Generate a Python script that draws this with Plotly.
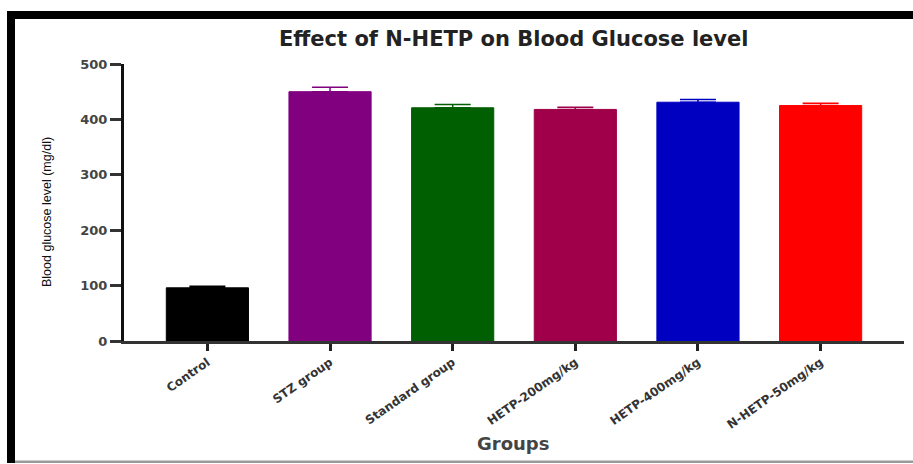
import plotly.graph_objects as go

# Mean blood glucose (mg/dl) per group with upper SEM bars
groups = ["Control", "STZ group", "Standard group", "HETP-200mg/kg", "HETP-400mg/kg", "N-HETP-50mg/kg"]
glucose = [96, 450, 421, 418, 431, 425]
sem = [3, 8, 6, 4, 5, 4]
bar_colors = ["#000000", "#800080", "#005f00", "#a0004a", "#0000c0", "#ff0000"]
y_ticks = [0, 100, 200, 300, 400, 500]

W, H = 913, 464
L, R, T, B = 124, 9, 64, 123
pw, ph = W - L - R, H - T - B


def px(x):
    return (x - L) / pw


def py(y):
    return (H - B - y) / ph


fig = go.Figure()
for i, g in enumerate(groups):
    fig.add_trace(go.Bar(
        x=[i], y=[glucose[i]],
        width=0.67,
        marker=dict(color=bar_colors[i], line=dict(color=bar_colors[i], width=1)),
        error_y=dict(type="data", symmetric=False, array=[sem[i]], arrayminus=[0],
                     color=bar_colors[i], thickness=1.5, width=18),
        showlegend=False,
        name=g,
    ))

wide_bold = "DejaVu Sans, Verdana, sans-serif"

fig.update_layout(
    width=W, height=H,
    margin=dict(l=L, r=R, t=T, b=B),
    paper_bgcolor="white", plot_bgcolor="white",
    bargap=0.33,
    font=dict(family=wide_bold, color="#333333"),
    xaxis=dict(
        range=[-0.68, 5.68],
        tickmode="array", tickvals=list(range(len(groups))), ticktext=groups,
        tickangle=-35,
        tickfont=dict(size=12, family=wide_bold, color="#333333", weight="bold"),
        showline=True, linecolor="#333333", linewidth=2.5,
        ticks="outside", ticklen=7, tickwidth=3, tickcolor="#222222",
        showgrid=False, zeroline=False,
    ),
    yaxis=dict(
        range=[0, 500],
        tickmode="array", tickvals=y_ticks,
        tickfont=dict(size=13, family=wide_bold, color="#444444", weight="bold"),
        showline=True, linecolor="#111111", linewidth=3,
        ticks="outside", ticklen=11, tickwidth=2.5, tickcolor="#333333",
        showgrid=False, zeroline=False,
    ),
    annotations=[
        dict(text="<b>Effect of N-HETP on Blood Glucose level</b>", xref="paper", yref="paper",
             x=px(514), y=py(39), xanchor="center", yanchor="middle", showarrow=False,
             font=dict(size=21, color="#222222", family=wide_bold)),
        dict(text="<b>Groups</b>", xref="paper", yref="paper",
             x=px(513), y=py(443), xanchor="center", yanchor="middle", showarrow=False,
             font=dict(size=18, color="#444444", family=wide_bold)),
        dict(text="Blood glucose level (mg/dl)", xref="paper", yref="paper",
             x=px(47), y=py(212), xanchor="center", yanchor="middle", showarrow=False,
             textangle=-90,
             font=dict(size=12.5, color="#111111", family="Liberation Sans, Arial")),
    ],
    shapes=[
        # frame: thick black left and top edges, thin grey bottom edge
        dict(type="rect", xref="paper", yref="paper", x0=px(7), x1=px(15), y0=py(463), y1=py(11),
             fillcolor="black", line=dict(width=0), layer="above"),
        dict(type="rect", xref="paper", yref="paper", x0=px(7), x1=px(913), y0=py(19), y1=py(11),
             fillcolor="black", line=dict(width=0), layer="above"),
        dict(type="rect", xref="paper", yref="paper", x0=px(15), x1=px(913), y0=py(463), y1=py(460.5),
             fillcolor="#9a9a9a", line=dict(width=0), layer="above"),
    ],
)

fig.write_html("out.html")
